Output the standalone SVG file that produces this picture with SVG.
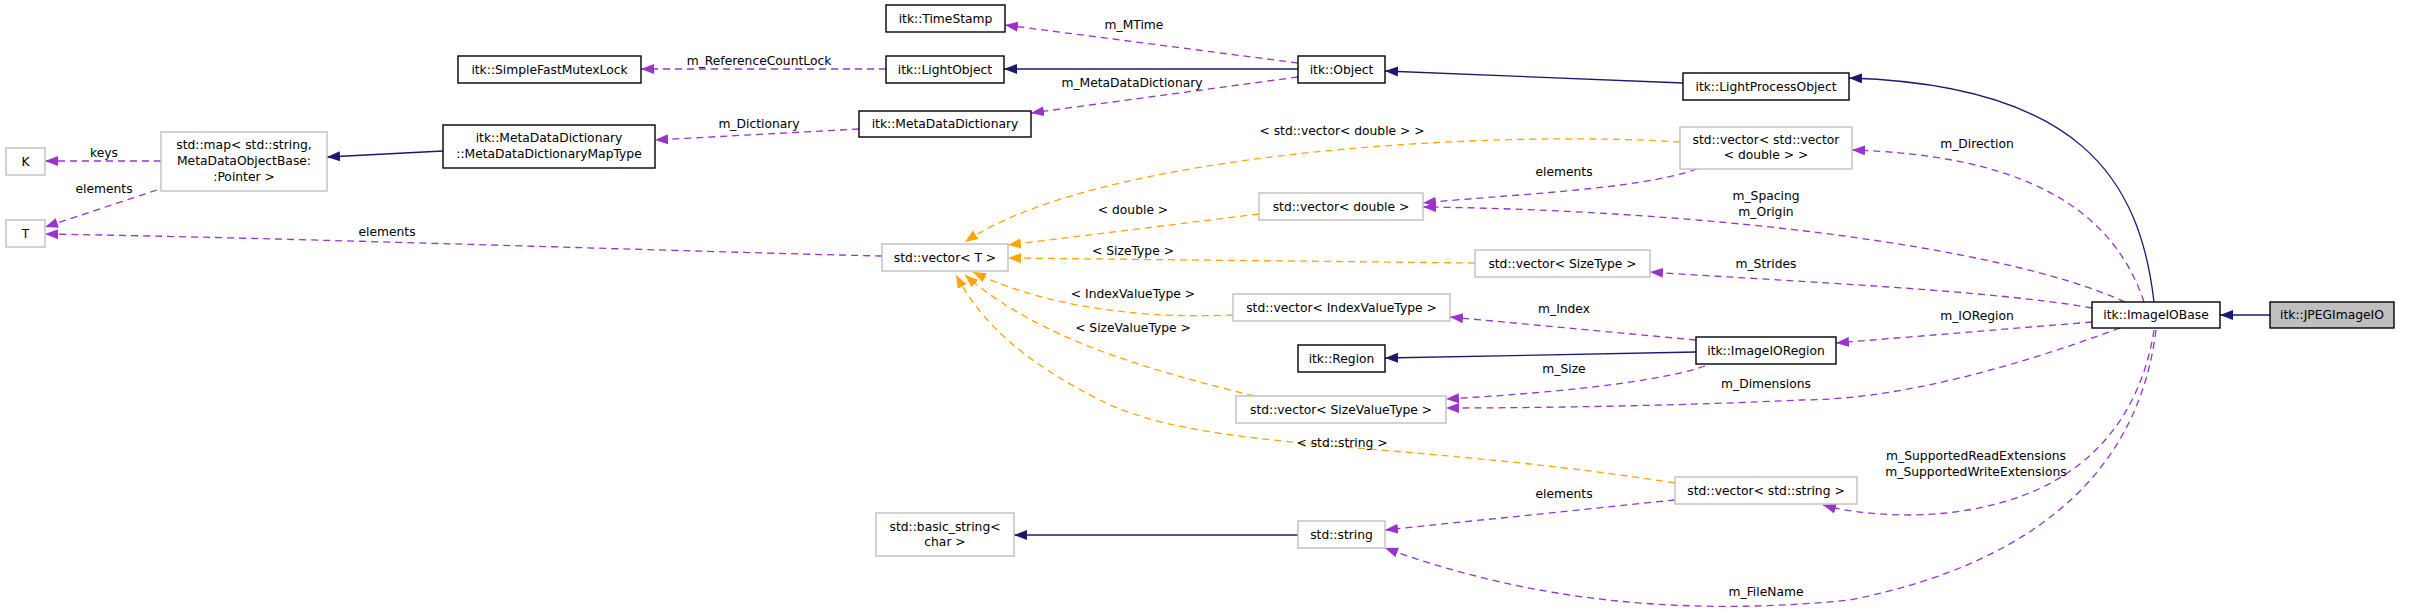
<svg xmlns="http://www.w3.org/2000/svg" width="2413" height="613" viewBox="0 0 2413 613">
<style>
text{font-family:"DejaVu Sans","Liberation Sans",sans-serif;font-size:12.3px;fill:#000;text-anchor:middle}
.b{fill:#fff;stroke:#000;stroke-width:1.4}
.g{fill:#fff;stroke:#bfbfbf;stroke-width:1.4}
.s{fill:#bfbfbf;stroke:#000;stroke-width:1.4}
.p{fill:none;stroke:#9a32cd;stroke-width:1.3;stroke-dasharray:7,5;marker-end:url(#ap)}
.o{fill:none;stroke:#ffa500;stroke-width:1.3;stroke-dasharray:7,5;marker-end:url(#ao)}
.n{fill:none;stroke:#191970;stroke-width:1.3;marker-end:url(#an)}
</style>
<defs>
<marker id="ap" markerUnits="userSpaceOnUse" markerWidth="14" markerHeight="12" refX="13" refY="5" orient="auto"><path d="M0,0L13,5L0,10Z" fill="#9a32cd"/></marker>
<marker id="ao" markerUnits="userSpaceOnUse" markerWidth="14" markerHeight="12" refX="13" refY="5" orient="auto"><path d="M0,0L13,5L0,10Z" fill="#ffa500"/></marker>
<marker id="an" markerUnits="userSpaceOnUse" markerWidth="14" markerHeight="12" refX="13" refY="5" orient="auto"><path d="M0,0L13,5L0,10Z" fill="#191970"/></marker>
</defs>
<g id="edges">
<path class="p" d="M1298,63L1005,25"/>
<path class="p" d="M886,69L641,69"/>
<path class="n" d="M1298,69L1004,69"/>
<path class="p" d="M1298,77L1031,113"/>
<path class="p" d="M859,129L655,140"/>
<path class="n" d="M443,151L327,157"/>
<path class="p" d="M161,161L45,161"/>
<path class="p" d="M157,190L45,227"/>
<path class="p" d="M882,256C700,252 300,238 45,234"/>
<path class="n" d="M1683,83L1385,71"/>
<path class="n" d="M2154,302C2140,180 2080,85 1849,78"/>
<path class="p" d="M2144,302C2110,200 2010,155 1852,150"/>
<path class="o" d="M1680,142C1500,130 1100,150 965,242"/>
<path class="p" d="M1697,169C1640,190 1500,195 1423,203"/>
<path class="p" d="M2125,302C2000,245 1700,210 1423,207"/>
<path class="o" d="M1259,214L1008,245"/>
<path class="o" d="M1475,263L1008,258"/>
<path class="p" d="M2092,308C1990,290 1800,282 1650,272"/>
<path class="o" d="M1233,315C1120,320 1030,300 973,272"/>
<path class="p" d="M1696,340L1450,317"/>
<path class="n" d="M1696,352L1385,358"/>
<path class="p" d="M2092,322L1836,343"/>
<path class="p" d="M1705,366C1650,385 1520,395 1446,399"/>
<path class="p" d="M2120,328C2020,365 1900,400 1800,400C1700,405 1550,408 1446,408"/>
<path class="o" d="M1254,396C1150,370 1040,340 965,275"/>
<path class="o" d="M1675,483C1400,440 1200,452 1100,400C1020,360 980,320 956,275"/>
<path class="p" d="M1675,500L1385,530"/>
<path class="n" d="M1298,535L1014,535"/>
<path class="p" d="M2154,330C2140,420 2080,510 1915,515C1870,515 1840,510 1823,505"/>
<path class="p" d="M2156,330C2140,460 2050,560 1850,600C1650,620 1500,590 1385,548"/>
<path class="n" d="M2270,315L2220,315"/>
<text x="1134" y="29">m_MTime</text>
<text x="759" y="65">m_ReferenceCountLock</text>
<text x="1132" y="87">m_MetaDataDictionary</text>
<text x="759" y="128">m_Dictionary</text>
<text x="104" y="157">keys</text>
<text x="104" y="193">elements</text>
<text x="387" y="236">elements</text>
<text x="1342" y="135">&lt; std::vector&lt; double &gt; &gt;</text>
<text x="1133" y="214">&lt; double &gt;</text>
<text x="1133" y="255">&lt; SizeType &gt;</text>
<text x="1133" y="298">&lt; IndexValueType &gt;</text>
<text x="1133" y="332">&lt; SizeValueType &gt;</text>
<text x="1342" y="447">&lt; std::string &gt;</text>
<text x="1564" y="176">elements</text>
<text x="1766" y="200">m_Spacing</text>
<text x="1766" y="216">m_Origin</text>
<text x="1977" y="148">m_Direction</text>
<text x="1766" y="268">m_Strides</text>
<text x="1564" y="313">m_Index</text>
<text x="1977" y="320">m_IORegion</text>
<text x="1564" y="373">m_Size</text>
<text x="1766" y="388">m_Dimensions</text>
<text x="1564" y="498">elements</text>
<text x="1976" y="460">m_SupportedReadExtensions</text>
<text x="1976" y="476">m_SupportedWriteExtensions</text>
<text x="1766" y="596">m_FileName</text>
</g>
<g id="TimeStamp"><rect class="b" x="886" y="5" width="119" height="27"/><text x="945.5" y="23">itk::TimeStamp</text></g>
<g id="SimpleFastMutexLock"><rect class="b" x="458" y="56" width="183" height="27"/><text x="549.5" y="74">itk::SimpleFastMutexLock</text></g>
<g id="LightObject"><rect class="b" x="886" y="56" width="118" height="27"/><text x="945" y="74">itk::LightObject</text></g>
<g id="Object"><rect class="b" x="1298" y="56" width="87" height="27"/><text x="1341.5" y="74">itk::Object</text></g>
<g id="LightProcessObject"><rect class="b" x="1683" y="73" width="166" height="27"/><text x="1766" y="91">itk::LightProcessObject</text></g>
<g id="MetaDataDictionary"><rect class="b" x="859" y="111" width="172" height="26"/><text x="945" y="128">itk::MetaDataDictionary</text></g>
<g id="MapType"><rect class="b" x="443" y="125" width="212" height="43"/><text x="549" y="142">itk::MetaDataDictionary</text><text x="549" y="158">::MetaDataDictionaryMapType</text></g>
<g id="StdMap"><rect class="g" x="161" y="132" width="166" height="59"/><text x="244" y="149">std::map&lt; std::string,</text><text x="244" y="165">MetaDataObjectBase:</text><text x="244" y="181">:Pointer &gt;</text></g>
<g id="K"><rect class="g" x="6" y="148" width="39" height="27"/><text x="25.5" y="166">K</text></g>
<g id="T"><rect class="g" x="6" y="220" width="39" height="27"/><text x="25.5" y="238">T</text></g>
<g id="VecVecDouble"><rect class="g" x="1680" y="127" width="172" height="42"/><text x="1766" y="144">std::vector&lt; std::vector</text><text x="1766" y="159">&lt; double &gt; &gt;</text></g>
<g id="VecDouble"><rect class="g" x="1259" y="193" width="164" height="27"/><text x="1341" y="211">std::vector&lt; double &gt;</text></g>
<g id="VecT"><rect class="g" x="882" y="244" width="126" height="27"/><text x="945" y="262">std::vector&lt; T &gt;</text></g>
<g id="VecSizeType"><rect class="g" x="1475" y="250" width="175" height="27"/><text x="1562.5" y="268">std::vector&lt; SizeType &gt;</text></g>
<g id="VecIndexValueType"><rect class="g" x="1233" y="294" width="217" height="27"/><text x="1341.5" y="312">std::vector&lt; IndexValueType &gt;</text></g>
<g id="ImageIOBase"><rect class="b" x="2092" y="302" width="128" height="26"/><text x="2156" y="319">itk::ImageIOBase</text></g>
<g id="JPEGImageIO"><rect class="s" x="2270" y="302" width="124" height="26"/><text x="2332" y="319">itk::JPEGImageIO</text></g>
<g id="ImageIORegion"><rect class="b" x="1696" y="337" width="140" height="27"/><text x="1766" y="355">itk::ImageIORegion</text></g>
<g id="Region"><rect class="b" x="1298" y="345" width="87" height="27"/><text x="1341.5" y="363">itk::Region</text></g>
<g id="VecSizeValueType"><rect class="g" x="1236" y="396" width="210" height="27"/><text x="1341" y="414">std::vector&lt; SizeValueType &gt;</text></g>
<g id="VecString"><rect class="g" x="1675" y="477" width="182" height="27"/><text x="1766" y="495">std::vector&lt; std::string &gt;</text></g>
<g id="StdString"><rect class="g" x="1298" y="521" width="87" height="27"/><text x="1341.5" y="539">std::string</text></g>
<g id="BasicString"><rect class="g" x="876" y="513" width="138" height="43"/><text x="945" y="531">std::basic_string&lt;</text><text x="945" y="546">char &gt;</text></g>
</svg>
